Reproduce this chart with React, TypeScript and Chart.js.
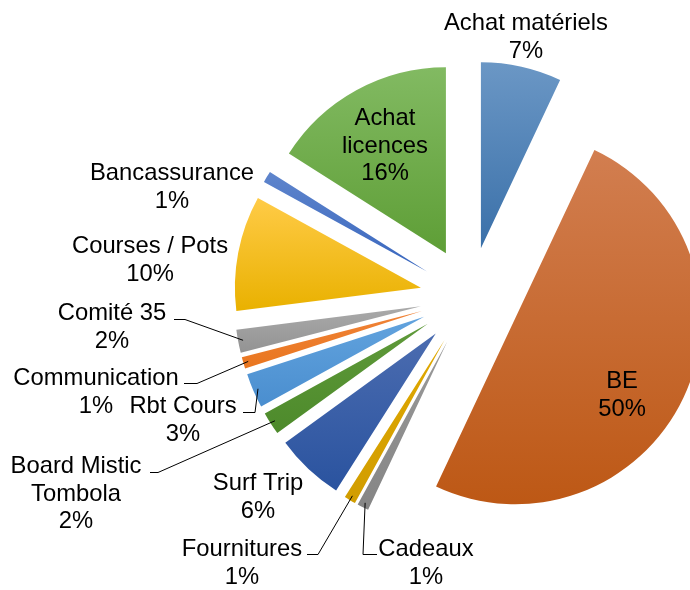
import { useEffect, useRef } from 'react';
import { Chart, registerables } from 'chart.js';

Chart.register(...registerables);

// ---- data ----
const categories = [
  'Achat matériels',
  'BE',
  'Cadeaux',
  'Fournitures',
  'Surf Trip',
  'Board Mistic Tombola',
  'Rbt Cours',
  'Communication',
  'Comité 35',
  'Courses / Pots',
  'Bancassurance',
  'Achat licences',
];
const shares = [7, 50, 1, 1, 6, 2, 3, 1, 2, 10, 1, 16];
const labelLines = [
  ['Achat matériels'],
  ['BE'],
  ['Cadeaux'],
  ['Fournitures'],
  ['Surf Trip'],
  ['Board Mistic', 'Tombola'],
  ['Rbt Cours'],
  ['Communication'],
  ['Comité 35'],
  ['Courses / Pots'],
  ['Bancassurance'],
  ['Achat', 'licences'],
];

// ---- styles ----
const colorsTop = [
  '#6b97c5', '#d27e50', '#9a9a9a', '#e0a800', '#4b6cb0', '#5f9a3a',
  '#62a3de', '#f08338', '#aaaaaa', '#ffcb47', '#5f85cc', '#82ba62',
];
const colorsBottom = [
  '#3a70a9', '#bd5815', '#858585', '#d19d00', '#2a539f', '#4d8a2b',
  '#4a8ecf', '#e9761f', '#939393', '#e9b100', '#3866be', '#5e9e36',
];

const EXPLODE = 50;
const RADIUS = 186;
const FONT = '23.8px "Liberation Sans", Arial, sans-serif';
const LINE_H = 27.5;

// label layout: centre x, first baseline y, leader points (text side) ending at slice edge
const labelLayout: { x: number; y: number; leader?: [number, number][] }[] = [
  { x: 526, y: 30 },
  { x: 622, y: 388 },
  { x: 426, y: 556, leader: [[377, 554], [363, 554]] },
  { x: 242, y: 556, leader: [[307, 554], [318, 554]] },
  { x: 258, y: 490 },
  { x: 76, y: 473, leader: [[150, 472], [158, 472]] },
  { x: 183, y: 413, leader: [[243, 412], [255, 412]] },
  { x: 96, y: 385, leader: [[184, 383], [197, 383]] },
  { x: 112, y: 320, leader: [[174, 319], [185, 319]] },
  { x: 150, y: 253 },
  { x: 172, y: 180 },
  { x: 385, y: 125 },
];

function angleInRange(a: number, s: number, e: number) {
  let t = a;
  while (t < s) t += Math.PI * 2;
  while (t - Math.PI * 2 >= s) t -= Math.PI * 2;
  return t <= e;
}

const explodePlugin = {
  id: 'explodeSlices',
  afterDatasetsUpdate(chart: any) {
    const meta = chart.getDatasetMeta(0);
    const ctx = chart.ctx as CanvasRenderingContext2D;
    meta.data.forEach((arc: any, i: number) => {
      const mid = (arc.startAngle + arc.endAngle) / 2;
      arc.x += EXPLODE * Math.cos(mid);
      arc.y += EXPLODE * Math.sin(mid);
      const R = arc.outerRadius;
      const ys = [
        arc.y,
        arc.y + R * Math.sin(arc.startAngle),
        arc.y + R * Math.sin(arc.endAngle),
      ];
      if (angleInRange(-Math.PI / 2, arc.startAngle, arc.endAngle)) ys.push(arc.y - R);
      if (angleInRange(Math.PI / 2, arc.startAngle, arc.endAngle)) ys.push(arc.y + R);
      const y0 = Math.min(...ys);
      const y1 = Math.max(...ys);
      const g = ctx.createLinearGradient(0, y0, 0, y1);
      g.addColorStop(0, colorsTop[i]);
      g.addColorStop(1, colorsBottom[i]);
      arc.options = { ...arc.options, backgroundColor: g };
    });
  },
};

const labelPlugin = {
  id: 'sliceLabels',
  afterDatasetsDraw(chart: any) {
    const meta = chart.getDatasetMeta(0);
    const ctx = chart.ctx as CanvasRenderingContext2D;
    const total = shares.reduce((a, b) => a + b, 0);
    ctx.save();
    // leader lines
    ctx.strokeStyle = '#000000';
    ctx.lineWidth = 1;
    meta.data.forEach((arc: any, i: number) => {
      const lay = labelLayout[i];
      if (!lay.leader) return;
      const mid = (arc.startAngle + arc.endAngle) / 2;
      const r = arc.outerRadius - 5;
      const ex = arc.x + r * Math.cos(mid);
      const ey = arc.y + r * Math.sin(mid);
      ctx.beginPath();
      lay.leader.forEach(([px, py], k) => {
        if (k === 0) ctx.moveTo(px, py + 0.5);
        else ctx.lineTo(px, py + 0.5);
      });
      ctx.lineTo(ex, ey);
      ctx.stroke();
    });
    // texts
    ctx.font = FONT;
    ctx.fillStyle = '#000000';
    ctx.textAlign = 'center';
    ctx.textBaseline = 'alphabetic';
    categories.forEach((_, i) => {
      const lay = labelLayout[i];
      const lines = [...labelLines[i], Math.round((shares[i] / total) * 100) + '%'];
      lines.forEach((t, k) => {
        ctx.fillText(t, lay.x, lay.y + k * LINE_H);
      });
    });
    ctx.restore();
  },
};

export default function App() {
  const ref = useRef<HTMLCanvasElement | null>(null);
  useEffect(() => {
    if (!ref.current) return;
    const chart = new Chart(ref.current, {
      type: 'pie',
      data: {
        labels: categories,
        datasets: [
          {
            data: shares,
            backgroundColor: colorsBottom,
            borderWidth: 0,
            radius: RADIUS,
            clip: false,
          } as any,
        ],
      },
      options: {
        responsive: false,
        animation: false,
        events: [],
        layout: { padding: { left: 250, right: 0, top: 4, bottom: 0 } },
        plugins: {
          legend: { display: false },
          tooltip: { enabled: false },
        },
      },
      plugins: [explodePlugin, labelPlugin],
    });
    return () => chart.destroy();
  }, []);
  return (
    <div style={{ position: 'fixed', left: 0, top: 0, width: 690, height: 590, background: '#ffffff' }}>
      <canvas ref={ref} width={690} height={590} style={{ display: 'block' }} />
    </div>
  );
}
